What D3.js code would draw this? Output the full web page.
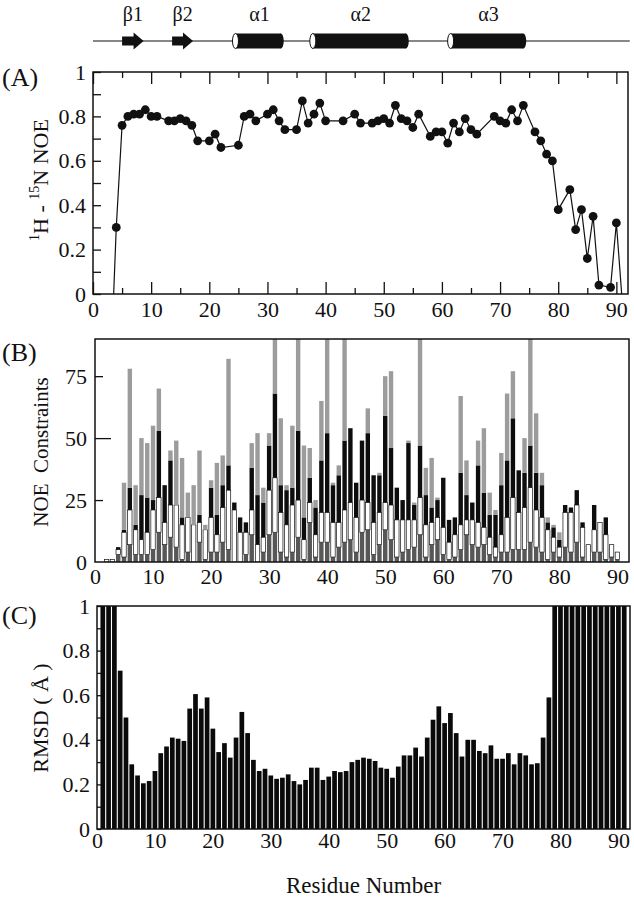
<!doctype html>
<html lang="en">
<head>
  <meta charset="utf-8">
  <title>NOE, constraints and RMSD per residue</title>
  <script src="https://cdnjs.cloudflare.com/ajax/libs/d3/7.8.5/d3.min.js"></script>
  <style>
    body { margin: 0; background: #fff; }
    svg text { font-family: "Liberation Serif", "Times New Roman", serif; fill: #111; }
  </style>
</head>
<body>
<div id="chart"></div>
<script>

// secondary structure elements (residue ranges)
var ssLabel = ["β1", "β2", "α1", "α2", "α3"];
var ssType  = ["strand", "strand", "helix", "helix", "helix"];
var ssStart = [5, 13.6, 24.5, 37.8, 61.5];
var ssEnd   = [8.7, 17.2, 32.8, 54.3, 74.5];

// (A) 1H-15N heteronuclear NOE
var noeResidue = [3,4,5,6,7,8,9,10,11,13,14,15,16,17,18,20,21,22,25,26,27,28,30,31,32,33,35,36,37,38,39,40,43,45,46,
                  48,49,50,51,52,53,54,55,56,58,59,60,61,62,63,64,65,66,69,70,71,72,73,74,76,77,78,79,80,82,83,84,85,86,87,89,90,91];
var noeValue = [-0.37,0.30,0.76,0.80,0.81,0.81,0.83,0.80,0.80,0.78,0.78,0.79,0.78,0.76,0.69,0.69,0.72,0.66,0.67,0.80,0.81,0.78,0.81,0.83,0.78,0.74,0.74,0.87,0.77,0.81,0.86,0.78,0.78,0.81,0.77,
                0.77,0.78,0.79,0.77,0.85,0.79,0.78,0.75,0.81,0.71,0.73,0.73,0.68,0.77,0.73,0.79,0.74,0.72,0.80,0.78,0.77,0.83,0.78,0.85,0.73,0.69,0.63,0.60,0.38,0.47,0.29,0.38,0.16,0.35,0.04,0.03,0.32,-0.03];

// (B) NOE constraints per residue 1..91, by class
var intra = [0,0,0,3,2,7,3,3,3,5,
             12,7,10,6,1,4,0,8,1,4,
             4,8,5,0,0,3,11,0,4,11,
             12,4,2,4,10,1,16,2,8,8,
             2,6,8,9,4,12,13,3,7,13,
             9,2,4,5,6,11,2,7,9,3,
             1,2,5,11,7,6,7,3,2,4,
             4,5,5,5,8,6,4,1,4,2,
             6,4,8,2,0,4,4,1,2,1,
             0];
var sequential = [0,1,1,2,10,14,10,6,9,16,
                  14,9,13,17,14,14,15,8,12,14,
                  7,14,24,21,12,9,10,7,6,18,
                  22,16,13,19,15,8,8,9,12,12,
                  14,10,13,15,14,13,11,13,13,11,
                  14,15,13,12,11,15,13,9,9,11,
                  7,9,10,6,10,10,7,7,4,7,
                  14,21,15,17,22,15,14,12,6,4,
                  14,16,15,12,7,9,12,10,5,3,
                  0];
var medium = [0,0,0,1,1,9,2,18,14,4,
              27,15,18,0,3,0,0,3,0,12,
              8,9,10,3,6,4,17,20,14,18,
              34,11,14,7,28,9,10,11,21,32,
              15,19,28,30,14,24,28,19,15,35,
              23,13,8,31,6,21,12,6,7,20,
              9,7,21,10,7,23,14,9,13,20,
              23,32,17,14,17,15,13,3,4,3,
              3,2,6,2,0,10,0,7,0,0,
              0];
var longRange = [0,0,0,0,19,48,16,23,22,30,
                 17,0,4,26,24,10,16,26,2,3,
                 21,12,43,0,0,0,10,25,6,5,
                 32,27,2,25,47,29,12,3,24,48,
                 1,4,51,0,0,0,10,0,1,16,
                 31,0,0,1,1,53,11,20,1,0,
                 0,0,31,14,0,10,26,9,2,13,
                 27,19,0,14,53,24,5,2,1,3,
                 0,0,0,0,0,0,0,0,0,0,
                 0];

// (C) backbone RMSD per residue 1..91
var rmsd = [1.4,1.4,1.2,0.71,0.50,0.29,0.24,0.205,0.215,0.26,
            0.34,0.37,0.41,0.405,0.395,0.54,0.605,0.54,0.59,0.45,
            0.345,0.385,0.32,0.41,0.525,0.43,0.31,0.26,0.27,0.24,
            0.225,0.23,0.245,0.215,0.20,0.22,0.275,0.275,0.22,0.235,
            0.26,0.255,0.26,0.30,0.31,0.32,0.315,0.305,0.275,0.27,
            0.23,0.28,0.33,0.33,0.365,0.325,0.41,0.49,0.55,0.475,
            0.52,0.43,0.325,0.40,0.40,0.35,0.34,0.375,0.315,0.315,
            0.34,0.29,0.34,0.33,0.29,0.295,0.41,0.59,1.3,1.6,
            1.5,1.8,1.4,1.7,1.5,1.9,1.6,1.4,1.8,1.5,
            1.3];

var xTicks = [0, 10, 20, 30, 40, 50, 60, 70, 80, 90];
var tickFont = 22;

var svg = d3.select("#chart").append("svg")
    .attr("width", 634)
    .attr("height", 900);

// panel boxes
var pA = {left: 93, right: 628, top: 72, bottom: 294};
var pB = {left: 95, right: 629, top: 339, bottom: 562};
var pC = {left: 97, right: 630, top: 606, bottom: 829};

var xA = d3.scaleLinear().domain([0, 92]).range([pA.left, pA.right]);
var xB = d3.scaleLinear().domain([0, 92]).range([pB.left, pB.right]);
var xC = d3.scaleLinear().domain([0, 92]).range([pC.left, pC.right]);
var yA = d3.scaleLinear().domain([0, 1]).range([pA.bottom, pA.top]);
var yB = d3.scaleLinear().domain([0, 90]).range([pB.bottom, pB.top]);
var yC = d3.scaleLinear().domain([0, 1]).range([pC.bottom, pC.top]);

function fmtDec(d) { return d === 0 ? "0" : d === 1 ? "1" : d.toFixed(1); }

function clip(id, p) {
  svg.append("clipPath").attr("id", id)
    .append("rect")
      .attr("x", p.left).attr("y", p.top)
      .attr("width", p.right - p.left).attr("height", p.bottom - p.top);
}

function frame(p) {
  svg.append("rect")
    .attr("x", p.left).attr("y", p.top)
    .attr("width", p.right - p.left).attr("height", p.bottom - p.top)
    .attr("fill", "none").attr("stroke", "#111").attr("stroke-width", 1.5);
}

function styleAxis(g) {
  g.select(".domain").remove();
  g.selectAll(".tick line").attr("stroke", "#111").attr("stroke-width", 1.3);
  g.selectAll(".tick text").attr("font-size", tickFont).attr("fill", "#111");
}

// ---- secondary structure strip
var ssY = 41;
svg.append("line")
  .attr("x1", xA(0)).attr("x2", xA(92.3))
  .attr("y1", ssY).attr("y2", ssY)
  .attr("stroke", "#111").attr("stroke-width", 1.2);

ssLabel.forEach(function(lab, i) {
  var x0 = xA(ssStart[i]), x1 = xA(ssEnd[i]);
  if (ssType[i] === "strand") {
    var hx = x1 - 10;
    svg.append("path")
      .attr("d", "M" + x0 + "," + (ssY - 4.5) + "H" + hx + "V" + (ssY - 8.5) + "L" + x1 + "," + ssY +
                 "L" + hx + "," + (ssY + 8.5) + "V" + (ssY + 4.5) + "H" + x0 + "Z")
      .attr("fill", "#111");
  } else {
    svg.append("rect")
      .attr("x", x0).attr("y", ssY - 7.5)
      .attr("width", x1 - x0 - 3).attr("height", 15)
      .attr("fill", "#111");
    svg.append("ellipse")
      .attr("cx", x1 - 3).attr("cy", ssY).attr("rx", 3).attr("ry", 7.5)
      .attr("fill", "#111");
    svg.append("ellipse")
      .attr("cx", x0).attr("cy", ssY).attr("rx", 3).attr("ry", 7.5)
      .attr("fill", "#fff").attr("stroke", "#111").attr("stroke-width", 1);
  }
  svg.append("text")
    .attr("x", (x0 + x1) / 2).attr("y", 21)
    .attr("text-anchor", "middle")
    .attr("font-size", 20)
    .text(lab);
});

// ---- (A) NOE
clip("clipA", pA);
var noeData = noeResidue.map(function(r, i) { return {r: r, v: noeValue[i]}; });

var gA = svg.append("g").attr("clip-path", "url(#clipA)");
gA.append("path")
  .datum(noeData)
  .attr("fill", "none").attr("stroke", "#111").attr("stroke-width", 1.2)
  .attr("d", d3.line().x(function(d) { return xA(d.r); }).y(function(d) { return yA(d.v); }));
gA.selectAll("circle")
  .data(noeData)
  .enter()
  .append("circle")
    .attr("cx", function(d) { return xA(d.r); })
    .attr("cy", function(d) { return yA(d.v); })
    .attr("r", 4.4)
    .attr("fill", "#111");

frame(pA);

var axA = svg.append("g").attr("transform", "translate(0," + pA.bottom + ")")
  .call(d3.axisBottom(xA).tickValues(xTicks).tickSize(-12).tickPadding(7).tickFormat(d3.format("d")));
styleAxis(axA);
var axAm = svg.append("g").attr("transform", "translate(0," + pA.bottom + ")")
  .call(d3.axisBottom(xA).tickValues(d3.range(5, 91, 10)).tickSize(-6).tickFormat(""));
styleAxis(axAm);
var axAt = svg.append("g").attr("transform", "translate(0," + pA.top + ")")
  .call(d3.axisTop(xA).tickValues(xTicks).tickSize(-12).tickFormat(""));
styleAxis(axAt);
var axAtm = svg.append("g").attr("transform", "translate(0," + pA.top + ")")
  .call(d3.axisTop(xA).tickValues(d3.range(5, 91, 10)).tickSize(-6).tickFormat(""));
styleAxis(axAtm);
var ayA = svg.append("g").attr("transform", "translate(" + pA.left + ",0)")
  .call(d3.axisLeft(yA).tickValues(d3.range(0, 11).map(function(k) { return k / 10; }))
    .tickSize(-8).tickPadding(7)
    .tickFormat(function(d) { return Math.round(d * 10) % 2 === 0 ? fmtDec(d) : ""; }));
styleAxis(ayA);

// ---- (B) NOE constraints, stacked
clip("clipB", pB);
var keys = ["intra", "sequential", "medium", "longRange"];
var fills = {intra: "#575757", sequential: "#ffffff", medium: "#0d0d0d", longRange: "#9c9c9c"};
var table = intra.map(function(v, i) {
  return {r: i + 1, intra: v, sequential: sequential[i], medium: medium[i], longRange: longRange[i]};
});
var series = d3.stack().keys(keys)(table);
var bwB = 4.4;

var gB = svg.append("g").attr("clip-path", "url(#clipB)");
series.forEach(function(s) {
  gB.append("g")
    .selectAll("rect")
    .data(s.filter(function(d) { return d[1] > d[0]; }))
    .enter()
    .append("rect")
      .attr("x", function(d) { return xB(d.data.r) - bwB / 2; })
      .attr("y", function(d) { return yB(d[1]); })
      .attr("width", bwB)
      .attr("height", function(d) { return yB(d[0]) - yB(d[1]); })
      .attr("fill", fills[s.key])
      .attr("stroke", s.key === "sequential" ? "#111" : "none")
      .attr("stroke-width", 0.7);
});

frame(pB);

var axB = svg.append("g").attr("transform", "translate(0," + pB.bottom + ")")
  .call(d3.axisBottom(xB).tickValues(xTicks).tickSize(0).tickPadding(6).tickFormat(d3.format("d")));
styleAxis(axB);
var ayB = svg.append("g").attr("transform", "translate(" + pB.left + ",0)")
  .call(d3.axisLeft(yB).tickValues([0, 25, 50, 75]).tickSize(0).tickPadding(8).tickFormat(d3.format("d")));
styleAxis(ayB);
var ayBt = svg.append("g").attr("transform", "translate(" + pB.left + ",0)")
  .call(d3.axisLeft(yB).tickValues([25, 75]).tickSize(-8).tickFormat(""));
styleAxis(ayBt);
var ayBt2 = svg.append("g").attr("transform", "translate(" + pB.left + ",0)")
  .call(d3.axisLeft(yB).tickValues([50]).tickSize(-16).tickFormat(""));
styleAxis(ayBt2);

// ---- (C) RMSD
clip("clipC", pC);
var bwC = 4.7;
var gC = svg.append("g").attr("clip-path", "url(#clipC)");
gC.selectAll("rect")
  .data(rmsd)
  .enter()
  .append("rect")
    .attr("x", function(d, i) { return xC(i + 1) - bwC / 2; })
    .attr("y", function(d) { return yC(d); })
    .attr("width", bwC)
    .attr("height", function(d) { return yC(0) - yC(d); })
    .attr("fill", "#0a0a0a");

frame(pC);

var axC = svg.append("g").attr("transform", "translate(0," + pC.bottom + ")")
  .call(d3.axisBottom(xC).tickValues(xTicks).tickSize(0).tickPadding(3).tickFormat(d3.format("d")));
styleAxis(axC);
var ayC = svg.append("g").attr("transform", "translate(" + pC.left + ",0)")
  .call(d3.axisLeft(yC).tickValues(d3.range(0, 11).map(function(k) { return k / 10; }))
    .tickSize(-4).tickPadding(7)
    .tickFormat(function(d) { return Math.round(d * 10) % 2 === 0 ? fmtDec(d) : ""; }));
styleAxis(ayC);

// ---- panel letters and axis titles
[["(A)", 86], ["(B)", 361], ["(C)", 624]].forEach(function(p) {
  svg.append("text").attr("x", 2).attr("y", p[1]).attr("font-size", 26).text(p[0]);
});

var tA = svg.append("text")
  .attr("transform", "translate(48,180) rotate(-90)")
  .attr("text-anchor", "middle")
  .attr("font-size", 22);
tA.append("tspan").attr("font-size", 14).attr("dy", -9).text("1");
tA.append("tspan").attr("dy", 9).text("H - ");
tA.append("tspan").attr("font-size", 14).attr("dy", -9).text("15");
tA.append("tspan").attr("dy", 9).text("N  NOE");

svg.append("text")
  .attr("transform", "translate(48,452) rotate(-90)")
  .attr("text-anchor", "middle")
  .attr("font-size", 21)
  .style("white-space", "pre")
  .text("NOE  Constraints");

svg.append("text")
  .attr("transform", "translate(48,718) rotate(-90)")
  .attr("text-anchor", "middle")
  .attr("font-size", 22)
  .text("RMSD ( Å )");

svg.append("text")
  .attr("x", (pC.left + pC.right) / 2).attr("y", 893)
  .attr("text-anchor", "middle")
  .attr("font-size", 23)
  .text("Residue Number");

</script>
</body>
</html>
